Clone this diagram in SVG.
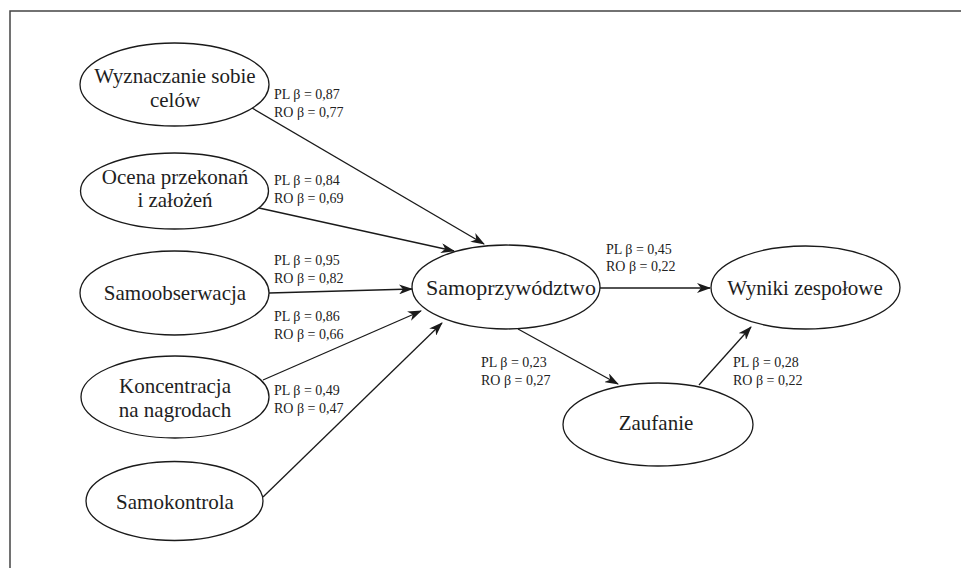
<svg xmlns="http://www.w3.org/2000/svg" width="961" height="568" viewBox="0 0 961 568">
<defs>
<marker id="arr" viewBox="0 0 14 10" refX="13" refY="5" markerWidth="14" markerHeight="10" markerUnits="userSpaceOnUse" orient="auto">
<path d="M0,0 L14,5 L0,10 L4,5 Z" fill="#1a1a1a"/>
</marker>
<style>
.n ellipse{fill:#fff;stroke:#1a1a1a;stroke-width:1.3}
.t{font-family:'Liberation Serif',serif;font-size:21px;fill:#1e1e1e;text-anchor:middle}
.e line{stroke:#1a1a1a;stroke-width:1.3;marker-end:url(#arr)}
.lb{font-family:'Liberation Serif',serif;font-size:14px;fill:#222}
.frame{stroke:#444;stroke-width:1.5;fill:none}
</style>
</defs>
<rect width="961" height="568" fill="#fff"/>
<path class="frame" d="M10,568 L10,11 L961,11"/>
<g class="e" id="connectors">
<line x1="252" y1="108" x2="484" y2="244"/>
<line x1="259" y1="208" x2="454" y2="251"/>
<line x1="269" y1="293" x2="412" y2="289"/>
<line x1="263" y1="380" x2="421" y2="311"/>
<line x1="263" y1="497" x2="442" y2="323"/>
<line x1="600" y1="288" x2="710" y2="288"/>
<line x1="518" y1="329" x2="618" y2="384"/>
<line x1="699" y1="385" x2="751" y2="327"/>
</g>
<g class="n" id="n-wyznaczanie"><ellipse cx="174.5" cy="84.5" rx="94.5" ry="41.5"/><text class="t" x="175" y="83">Wyznaczanie sobie</text><text class="t" x="175" y="107">celów</text></g>
<g class="n" id="n-ocena"><ellipse cx="174.5" cy="191" rx="94" ry="38"/><text class="t" x="175" y="184">Ocena przekonań</text><text class="t" x="175" y="207">i założeń</text></g>
<g class="n" id="n-samoobserwacja"><ellipse cx="174.5" cy="293" rx="94.5" ry="42"/><text class="t" x="175" y="300">Samoobserwacja</text></g>
<g class="n" id="n-koncentracja"><ellipse cx="175" cy="397" rx="94" ry="41"/><text class="t" x="175" y="393">Koncentracja</text><text class="t" x="175" y="417">na nagrodach</text></g>
<g class="n" id="n-samokontrola"><ellipse cx="174.5" cy="501" rx="88.5" ry="39.5"/><text class="t" x="175" y="509">Samokontrola</text></g>
<g class="n" id="n-samoprzywodztwo"><ellipse cx="506" cy="287" rx="94" ry="42"/><text class="t" x="511" y="295" style="font-size:22px">Samoprzywództwo</text></g>
<g class="n" id="n-wyniki"><ellipse cx="805.5" cy="287.5" rx="94.5" ry="41.5"/><text class="t" x="805" y="295">Wyniki zespołowe</text></g>
<g class="n" id="n-zaufanie"><ellipse cx="658" cy="424.5" rx="95" ry="41.5"/><text class="t" x="656" y="430">Zaufanie</text></g>
<g id="labels">
<text class="lb" x="274" y="99">PL β = 0,87</text><text class="lb" x="274" y="117">RO β = 0,77</text>
<text class="lb" x="274" y="185">PL β = 0,84</text><text class="lb" x="274" y="203">RO β = 0,69</text>
<text class="lb" x="274" y="265">PL β = 0,95</text><text class="lb" x="274" y="283">RO β = 0,82</text>
<text class="lb" x="274" y="321">PL β = 0,86</text><text class="lb" x="274" y="339">RO β = 0,66</text>
<text class="lb" x="274" y="395">PL β = 0,49</text><text class="lb" x="274" y="413">RO β = 0,47</text>
<text class="lb" x="606" y="254">PL β = 0,45</text><text class="lb" x="606" y="271">RO β = 0,22</text>
<text class="lb" x="481" y="367">PL β = 0,23</text><text class="lb" x="481" y="385">RO β = 0,27</text>
<text class="lb" x="733" y="367">PL β = 0,28</text><text class="lb" x="733" y="385">RO β = 0,22</text>
</g>
</svg>
